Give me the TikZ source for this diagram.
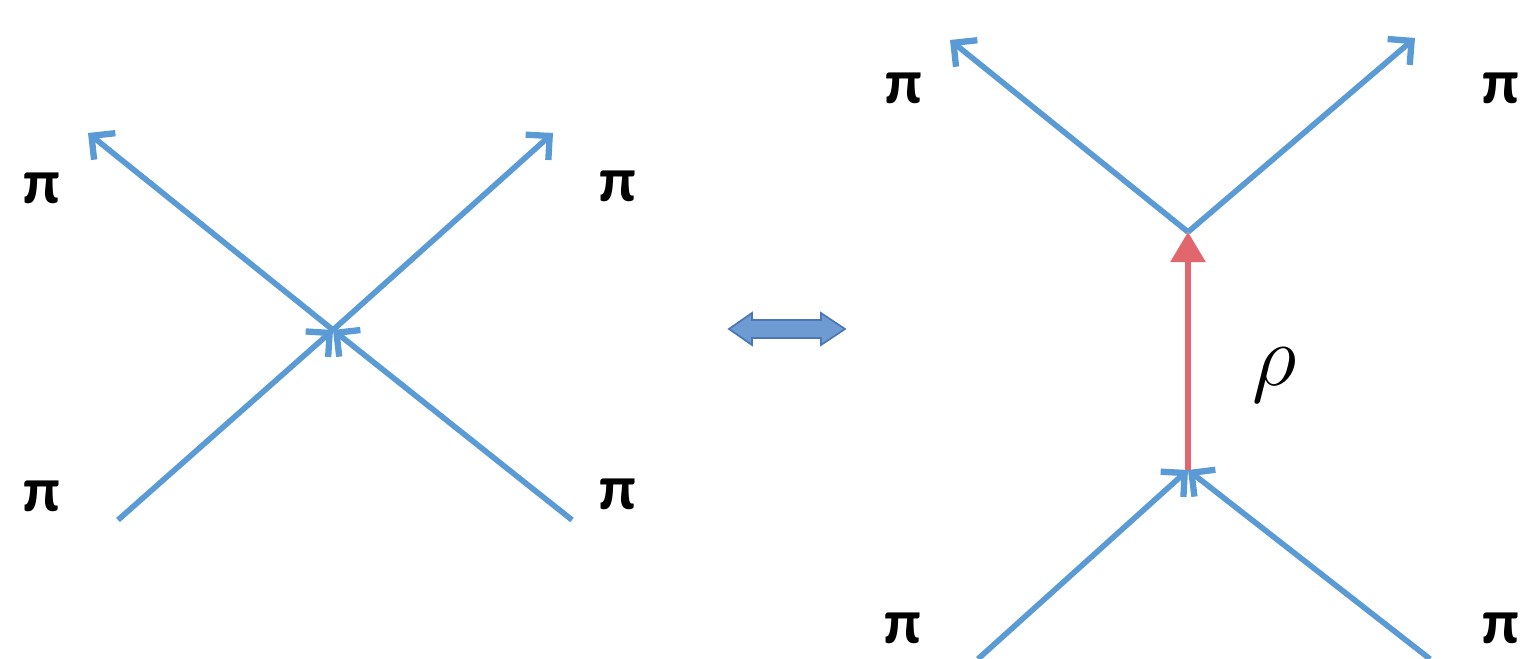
\documentclass[tikz,border=0pt]{standalone}
\usepackage{fontspec}
\newfontfamily\pifont{Carlito}
\usetikzlibrary{arrows.meta}
\definecolor{pionblue}{RGB}{91,155,213}
\definecolor{rhored}{RGB}{226,102,110}
\definecolor{swapfill}{RGB}{110,155,210}
\definecolor{swapdraw}{RGB}{75,120,180}

\begin{document}
\begin{tikzpicture}[
    x=0.01cm, y=-0.01cm,
    pion/.style={draw=pionblue, line width=1.6pt, -{Straight Barb[length=1.7mm, width=3.4mm, line width=1.8pt]}},
    meson/.style={draw=rhored, line width=1.6pt, -{Triangle[length=3mm, width=3.4mm]}},
    lbl/.style={font=\pifont\bfseries\fontsize{18}{21}\selectfont, inner sep=0pt}
]
    \useasboundingbox (0,0) rectangle (1526,659);

    % contact diagram
    \coordinate (cx) at (333,330);
    \coordinate (in1) at (118,520);
    \coordinate (in2) at (572,520);
    \coordinate (out1) at (88,133);
    \coordinate (out2) at (553,133);
    \draw[pion] (in1) -- (cx);
    \draw[pion] (in2) -- (cx);
    \draw[pion] (cx) -- (out1);
    \draw[pion] (cx) -- (out2);
    \node[lbl] (pa) at (42,188) {π};
    \node[lbl] (pb) at (618,186) {π};
    \node[lbl] (pc) at (42,496) {π};
    \node[lbl] (pd) at (618,494) {π};

    % equivalence
    \filldraw[draw=swapdraw, fill=swapfill, line width=0.5pt]
        (729,329) -- (752,313) -- (752,320) -- (821,320) -- (821,313)
        -- (845,329) -- (821,345) -- (821,338) -- (752,338) -- (752,345) -- cycle;

    % rho exchange
    \coordinate (top) at (1188,232);
    \coordinate (bot) at (1188,470);
    \coordinate (in3) at (978,659);
    \coordinate (in4) at (1430,659);
    \coordinate (out3) at (950,40);
    \coordinate (out4) at (1415,38);
    \draw[pion] (in3) -- (bot);
    \draw[pion] (in4) -- (bot);
    \draw[meson] (bot) -- (top);
    \draw[pion] (top) -- (out3);
    \draw[pion] (top) -- (out4);
    \node[font=\fontsize{25}{30}\selectfont, inner sep=0pt] (rho) at (1275,375) {$\rho$};
    \node[lbl] (pe) at (904,88) {π};
    \node[lbl] (pf) at (1501,88) {π};
    \node[lbl] (pg) at (903,628) {π};
    \node[lbl] (ph) at (1501,628) {π};

\end{tikzpicture}
\end{document}
